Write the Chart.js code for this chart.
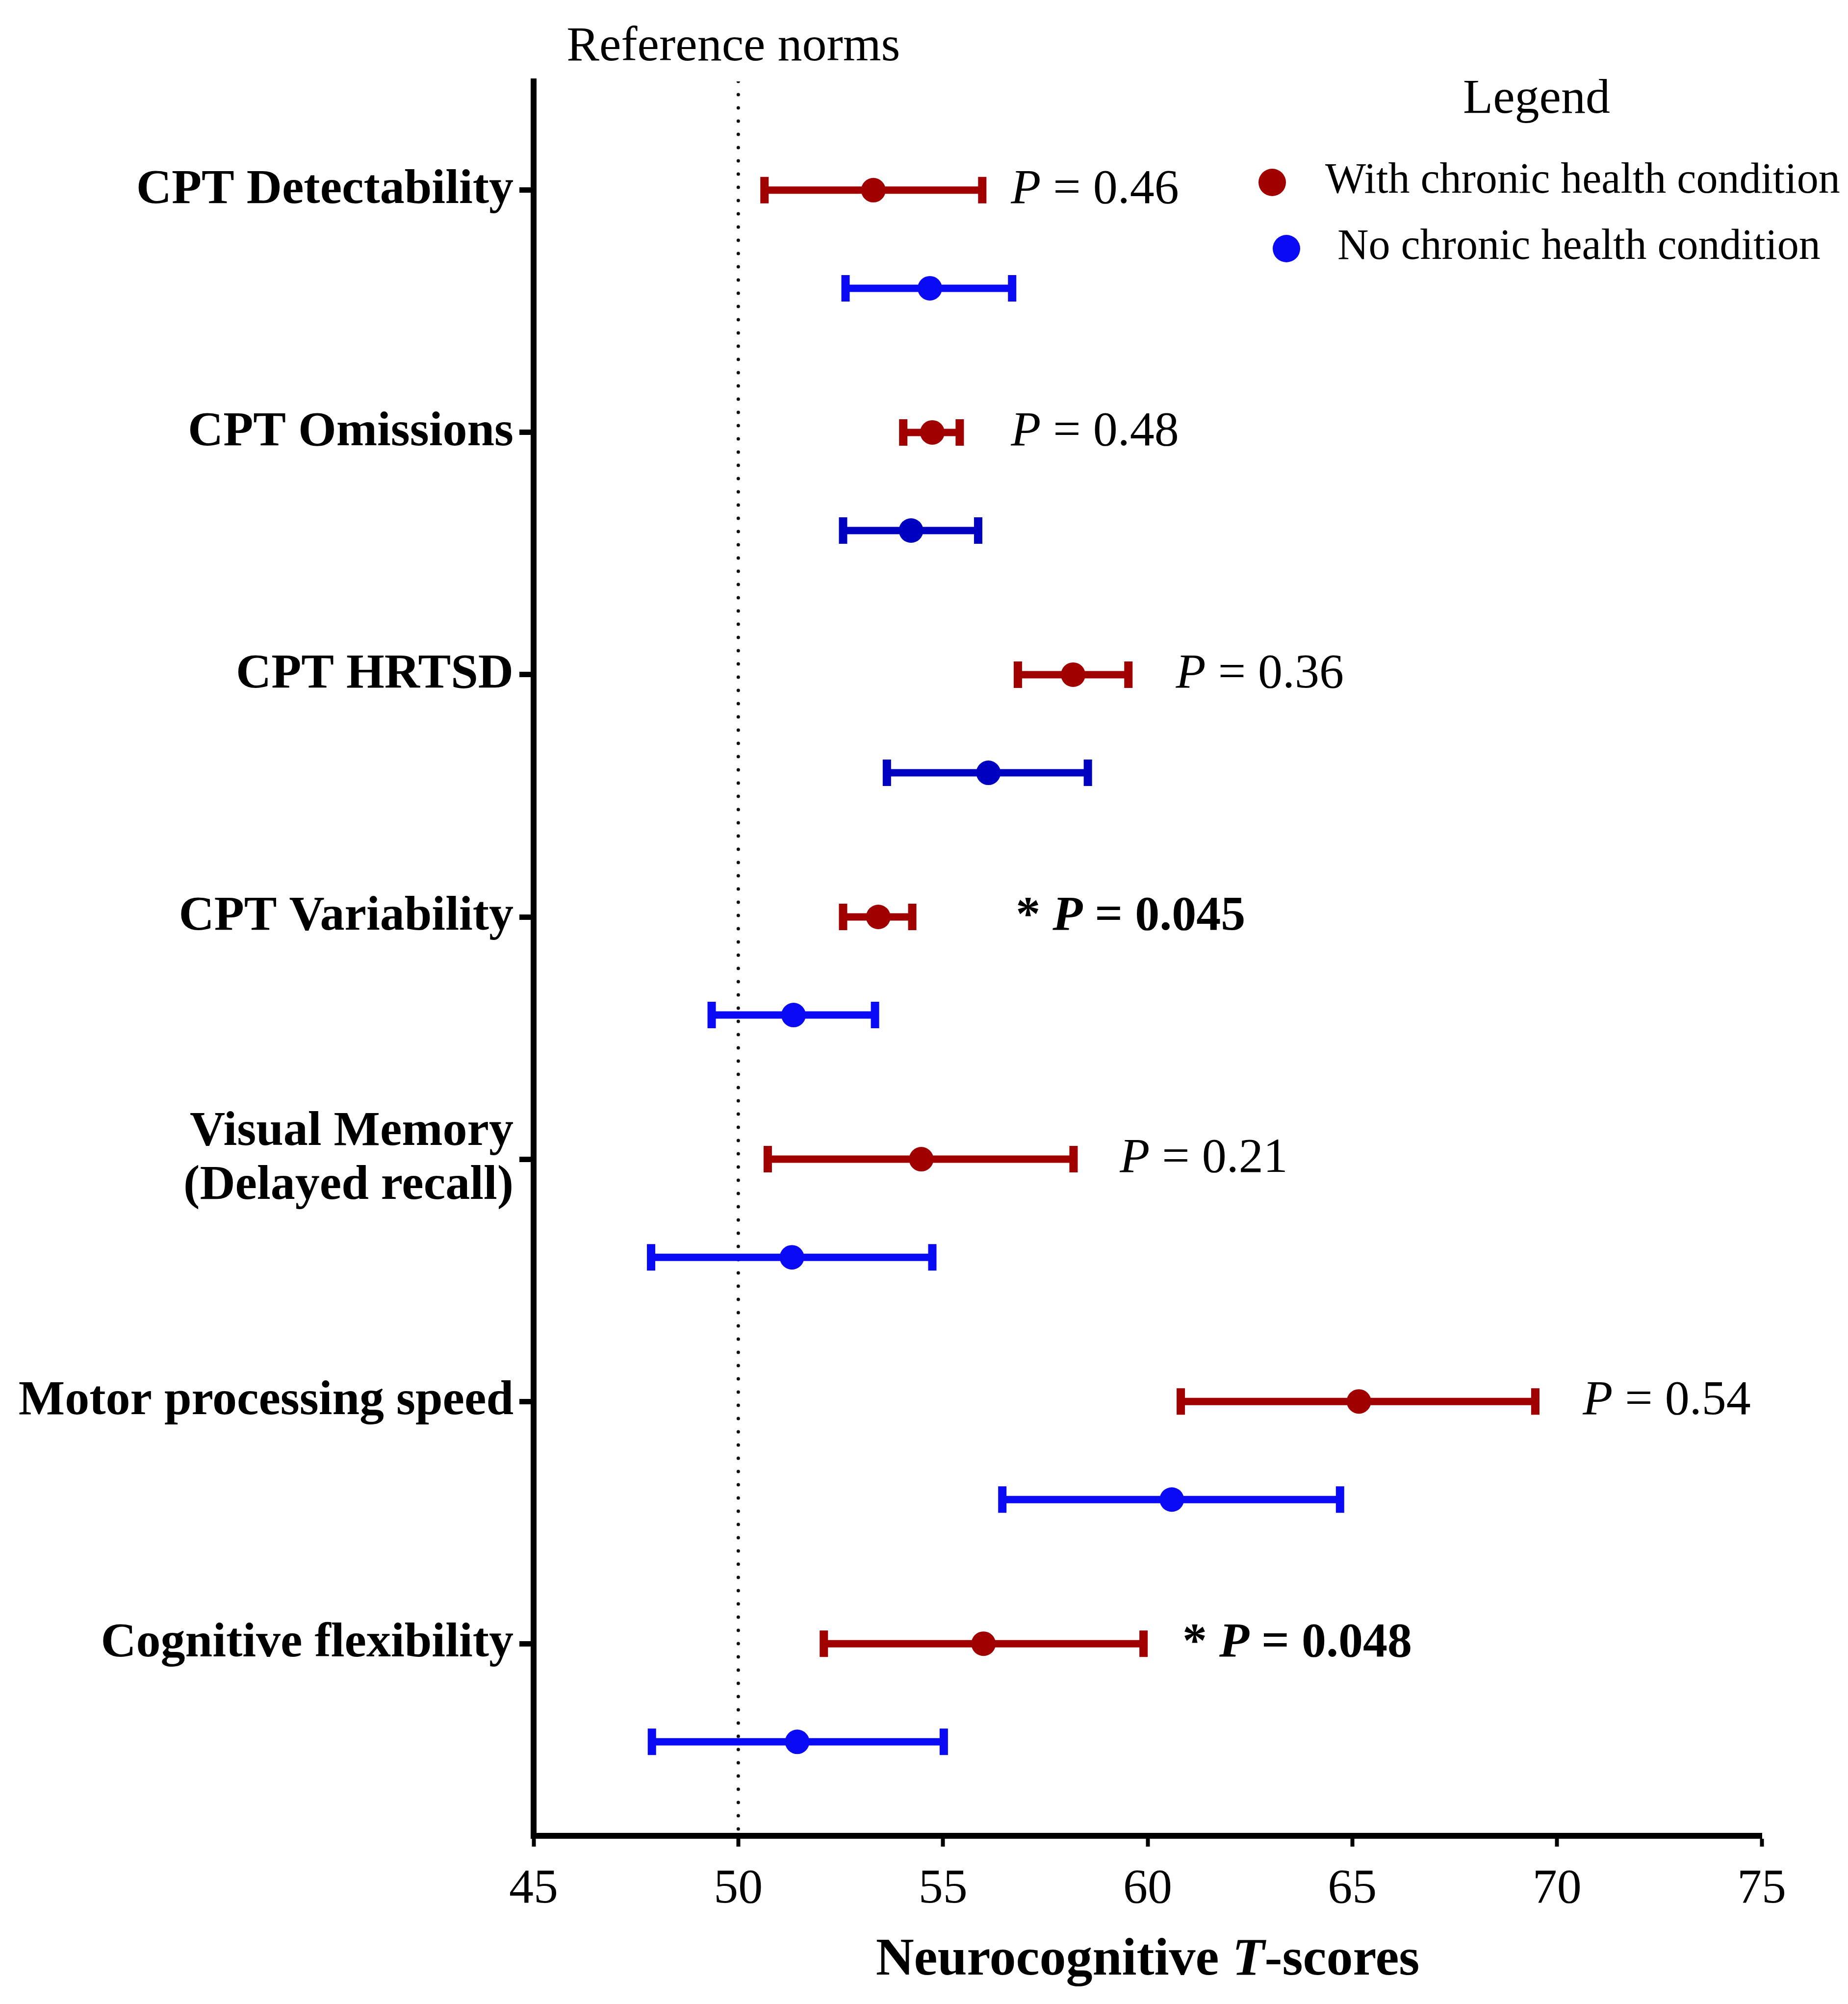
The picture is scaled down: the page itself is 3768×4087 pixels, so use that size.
<!DOCTYPE html>
<html>
<head>
<meta charset="utf-8">
<title>Neurocognitive T-scores</title>
<script src="https://cdn.jsdelivr.net/npm/chart.js@4.4.1/dist/chart.umd.min.js"></script>
<style>
  html, body { margin: 0; padding: 0; background: #fff; }
  #wrap { width: 3768px; height: 4087px; }
</style>
</head>
<body>
<div id="wrap"><canvas id="forestChart" width="3768" height="4087"></canvas></div>
<script>
// categories, top to bottom
var categories = [
  'CPT Detectability',
  'CPT Omissions',
  'CPT HRTSD',
  'CPT Variability',
  ['Visual Memory', '(Delayed recall)'],
  'Motor processing speed',
  'Cognitive flexibility'
];

// with chronic health condition: mean and interval
var withMean = [53.30, 54.74, 58.18, 53.42, 54.47, 65.16, 55.99];
var withLow  = [50.64, 54.03, 56.83, 52.56, 50.72, 60.81, 52.09];
var withHigh = [55.96, 55.41, 59.53, 54.25, 58.19, 69.47, 59.90];

// no chronic health condition
var noMean = [54.68, 54.22, 56.11, 51.35, 51.31, 60.59, 51.44];
var noLow  = [52.62, 52.56, 53.63, 49.35, 47.87, 56.45, 47.89];
var noHigh = [56.69, 55.86, 58.54, 53.34, 54.74, 64.70, 55.02];

// p values and where their text starts (T-score units)
var pValues = ['0.46', '0.48', '0.36', '0.045', '0.21', '0.54', '0.048'];
var significant = [false, false, false, true, false, false, true];
var pLabelX = [56.66, 56.66, 60.69, 56.78, 59.32, 70.63, 60.85];

var referenceNorm = 50;
var xTicks = [45, 50, 55, 60, 65, 70, 75];
var yMin = -0.449, yMax = 6.793;

var RED = '#a00000';
var BLUE = '#0a0af5';
var DARK_BLUE = '#0000c0';
var rowBlue = [BLUE, DARK_BLUE, DARK_BLUE, BLUE, BLUE, BLUE, BLUE];
var blueOffset = 0.405;
var FONT = "'Liberation Serif', 'Times New Roman', serif";

Chart.defaults.font.family = FONT;
Chart.defaults.color = '#000';

function errorBar(lo, hi, y, color) {
  return {
    type: 'line',
    data: [{x: lo, y: y}, {x: hi, y: y}],
    borderColor: color,
    borderWidth: 15,
    pointStyle: 'line',
    pointRotation: 90,
    pointRadius: 27,
    pointHoverRadius: 27,
    pointBorderWidth: 17,
    pointBorderColor: color,
    pointBackgroundColor: color,
    fill: false,
    clip: false
  };
}

var datasets = [];
datasets.push({
  type: 'scatter',
  label: 'With chronic health condition',
  data: withMean.map(function(v, i){ return {x: v, y: i}; }),
  pointRadius: 25,
  pointBackgroundColor: RED,
  pointBorderWidth: 0,
  clip: false
});
datasets.push({
  type: 'scatter',
  label: 'No chronic health condition',
  data: noMean.map(function(v, i){ return {x: v, y: i + blueOffset}; }),
  pointRadius: 25,
  pointBackgroundColor: rowBlue,
  pointBorderWidth: 0,
  clip: false
});
for (var i = 0; i < categories.length; i++) {
  datasets.push(errorBar(withLow[i], withHigh[i], i, RED));
  datasets.push(errorBar(noLow[i], noHigh[i], i + blueOffset, rowBlue[i]));
}
// dotted reference line
datasets.push({
  type: 'line',
  data: [{x: referenceNorm, y: yMin}, {x: referenceNorm, y: yMax}],
  borderColor: '#111',
  borderWidth: 7,
  borderDash: [0, 27],
  borderCapStyle: 'round',
  pointRadius: 0
});

function drawRuns(ctx, runs, x, y) {
  runs.forEach(function(r){
    ctx.font = r.font;
    ctx.fillText(r.text, x, y);
    x += ctx.measureText(r.text).width;
  });
}
function runsWidth(ctx, runs) {
  var w = 0;
  runs.forEach(function(r){ ctx.font = r.font; w += ctx.measureText(r.text).width; });
  return w;
}

var annotations = {
  id: 'annotations',
  afterDraw: function(chart) {
    var ctx = chart.ctx, xs = chart.scales.x, ys = chart.scales.y;
    ctx.save();
    ctx.fillStyle = '#000';

    ctx.font = '100px ' + FONT;
    ctx.textAlign = 'center';
    ctx.textBaseline = 'alphabetic';
    ctx.fillText('Reference norms', xs.getPixelForValue(referenceNorm) - 10, 123);

    // p values
    ctx.textAlign = 'left';
    ctx.textBaseline = 'middle';
    for (var i = 0; i < pValues.length; i++) {
      var runs;
      if (significant[i]) {
        runs = [
          {text: '* ', font: 'bold 100px ' + FONT},
          {text: 'P', font: 'italic bold 100px ' + FONT},
          {text: ' = ' + pValues[i], font: 'bold 100px ' + FONT}
        ];
      } else {
        runs = [
          {text: 'P', font: 'italic 100px ' + FONT},
          {text: ' = ' + pValues[i], font: '100px ' + FONT}
        ];
      }
      drawRuns(ctx, runs, xs.getPixelForValue(pLabelX[i]), ys.getPixelForValue(i));
    }

    // axis title
    ctx.textBaseline = 'alphabetic';
    var title = [
      {text: 'Neurocognitive ', font: 'bold 108px ' + FONT},
      {text: 'T', font: 'italic bold 108px ' + FONT},
      {text: '-scores', font: 'bold 108px ' + FONT}
    ];
    var cx = (chart.chartArea.left + chart.chartArea.right) / 2;
    drawRuns(ctx, title, cx - runsWidth(ctx, title) / 2, 4027);

    // legend
    ctx.font = '100px ' + FONT;
    ctx.textAlign = 'center';
    ctx.fillText('Legend', 3133, 230);
    ctx.textAlign = 'left';
    ctx.textBaseline = 'middle';
    ctx.font = '88px ' + FONT;
    ctx.fillStyle = RED;
    ctx.beginPath(); ctx.arc(2594, 372, 28, 0, Math.PI * 2); ctx.fill();
    ctx.fillStyle = BLUE;
    ctx.beginPath(); ctx.arc(2623, 507, 28, 0, Math.PI * 2); ctx.fill();
    ctx.fillStyle = '#000';
    ctx.fillText('With chronic health condition', 2702, 370);
    ctx.fillText('No chronic health condition', 2727, 505);
    ctx.restore();
  }
};

new Chart(document.getElementById('forestChart'), {
  type: 'scatter',
  data: { datasets: datasets },
  options: {
    responsive: false,
    animation: false,
    devicePixelRatio: 1,
    layout: { padding: { left: 0, right: 176, top: 166, bottom: 0 } },
    plugins: { legend: { display: false }, tooltip: { enabled: false } },
    scales: {
      x: {
        type: 'linear',
        position: 'bottom',
        min: 45,
        max: 75,
        afterBuildTicks: function(s){ s.ticks = xTicks.map(function(v){ return {value: v}; }); },
        afterFit: function(s){ s.height = 343; },
        ticks: { font: { size: 100 }, padding: 28, color: '#000', autoSkip: false, maxRotation: 0 },
        grid: { drawOnChartArea: false, drawTicks: true, tickLength: 22, tickWidth: 8, tickColor: '#000' },
        border: { display: true, color: '#000', width: 12 }
      },
      y: {
        type: 'linear',
        reverse: true,
        min: yMin,
        max: yMax,
        afterBuildTicks: function(s){ s.ticks = categories.map(function(c, i){ return {value: i}; }); },
        afterFit: function(s){ s.width = 1088; },
        ticks: {
          font: { size: 100, weight: 'bold', lineHeight: 1.1 },
          padding: 12,
          color: '#000',
          autoSkip: false,
          callback: function(v){ return categories[v]; }
        },
        grid: { drawOnChartArea: false, drawTicks: true, tickLength: 29, tickWidth: 11, tickColor: '#000' },
        border: { display: true, color: '#000', width: 12 }
      }
    }
  },
  plugins: [annotations]
});
</script>
</body>
</html>
